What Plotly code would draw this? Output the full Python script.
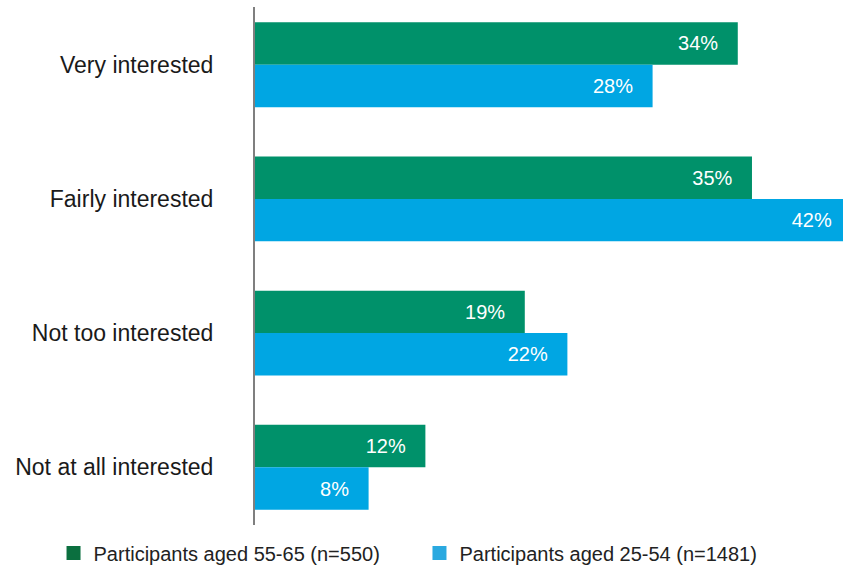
import plotly.graph_objects as go

categories = ["Very interested", "Fairly interested", "Not too interested", "Not at all interested"]
aged_55_65 = [34, 35, 19, 12]
aged_25_54 = [28, 42, 22, 8]
series_names = ["Participants aged 55-65 (n=550)", "Participants aged 25-54 (n=1481)"]

bar_colors = ["#00916A", "#00A6E3"]
legend_colors = ["#0B6F3F", "#2AA9E0"]
legend_ids = ["legend", "legend2"]
FONT = "Liberation Sans, Arial, Helvetica, sans-serif"

fig = go.Figure()
for vals, name, col in zip([aged_55_65, aged_25_54], series_names, bar_colors):
    fig.add_trace(go.Bar(
        y=categories, x=vals, orientation="h", name=name,
        marker=dict(color=col, line=dict(width=0)),
        texttemplate="%{x:.0f}%\u00a0\u00a0\u00a0", textposition="inside",
        insidetextanchor="end", textangle=0,
        textfont=dict(color="white", size=20, family=FONT),
        showlegend=False, hoverinfo="skip",
    ))
for name, col, lg in zip(series_names, legend_colors, legend_ids):
    fig.add_trace(go.Scatter(
        x=[None], y=[None], mode="markers", name=name, legend=lg,
        marker=dict(symbol="square", size=14, color=col),
    ))

legend_style = dict(
    orientation="h", xref="container", y=0.028, yref="container",
    yanchor="middle", xanchor="left",
    font=dict(size=20, color="#222222", family=FONT),
    itemwidth=30, bgcolor="rgba(0,0,0,0)",
)

fig.update_layout(
    width=843, height=569,
    margin=dict(l=255, r=0, t=7, b=44),
    paper_bgcolor="white", plot_bgcolor="white",
    barmode="group", bargap=0.367, bargroupgap=0,
    font=dict(family=FONT, color="#222222"),
    uniformtext=dict(mode=False),
    xaxis=dict(range=[0, 41.41], visible=False, fixedrange=True),
    yaxis=dict(
        type="category", categoryorder="array", categoryarray=categories,
        range=[3.43, -0.43], showgrid=False, showline=True,
        linecolor="#7f7f7f", linewidth=2, ticks="",
        tickfont=dict(size=23, color="#1a1a1a", family=FONT),
        ticklabelstandoff=35, fixedrange=True,
    ),
    legend=dict(x=0.0635, **legend_style),
    legend2=dict(x=0.4976, **legend_style),
)

fig.write_html(
    "out.html",
    config={"displayModeBar": False},
    post_script="document.body.style.margin='0';document.body.style.padding='0';",
)
